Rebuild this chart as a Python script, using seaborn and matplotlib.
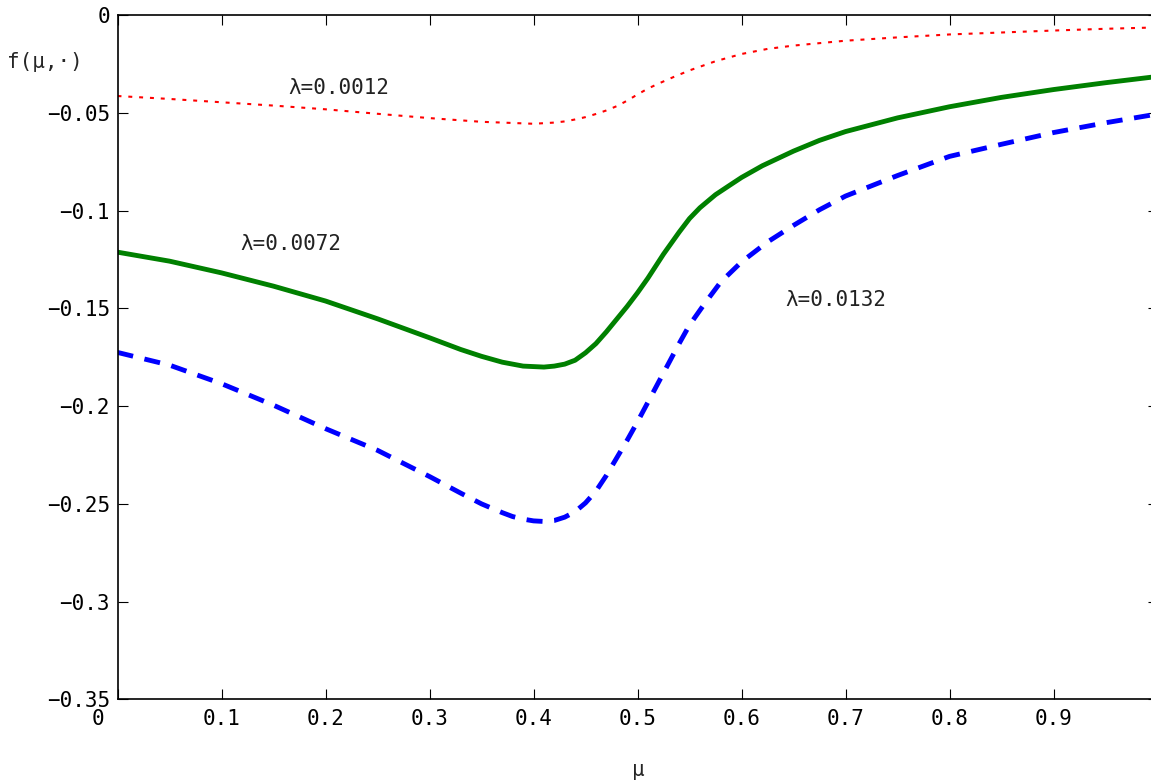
import numpy as np
import pandas as pd
import seaborn as sns
import matplotlib
matplotlib.use("Agg")
import matplotlib.pyplot as plt
import matplotlib.transforms as mtransforms

# values
mu_green = [0.00, 0.05, 0.10, 0.15, 0.20, 0.25, 0.30, 0.33, 0.35, 0.37, 0.39, 0.41, 0.42,
            0.43, 0.44, 0.45, 0.46, 0.47, 0.48, 0.49, 0.50, 0.51, 0.525, 0.54, 0.55, 0.56,
            0.575, 0.59, 0.60, 0.62, 0.65, 0.675, 0.70, 0.75, 0.80, 0.85, 0.90, 0.95, 1.00]
f_green = [-0.1212, -0.1258, -0.1318, -0.1386, -0.1462, -0.1553, -0.1650, -0.1710, -0.1745,
           -0.1775, -0.1795, -0.1800, -0.1795, -0.1785, -0.1765, -0.1727, -0.1680, -0.1620,
           -0.1555, -0.1490, -0.1420, -0.1345, -0.1222, -0.1110, -0.1040, -0.0985, -0.0918,
           -0.0865, -0.0830, -0.0770, -0.0695, -0.0640, -0.0595, -0.0525, -0.0468, -0.0420,
           -0.0380, -0.0345, -0.0313]

mu_blue = [0.00, 0.05, 0.10, 0.15, 0.20, 0.25, 0.30, 0.33, 0.35, 0.37, 0.38, 0.39, 0.40,
           0.41, 0.42, 0.43, 0.44, 0.45, 0.46, 0.47, 0.48, 0.49, 0.50, 0.51, 0.525, 0.54,
           0.55, 0.565, 0.58, 0.60, 0.625, 0.65, 0.675, 0.70, 0.75, 0.80, 0.85, 0.90, 0.95, 1.00]
f_blue = [-0.1725, -0.1790, -0.1885, -0.1995, -0.2115, -0.2226, -0.2360, -0.2445, -0.2500,
          -0.2545, -0.2565, -0.2578, -0.2587, -0.2590, -0.2585, -0.2568, -0.2540, -0.2495,
          -0.2435, -0.2355, -0.2265, -0.2175, -0.2080, -0.1980, -0.1830, -0.1680, -0.1585,
          -0.1472, -0.1365, -0.1262, -0.1160, -0.1075, -0.0995, -0.0925, -0.0820, -0.0722,
          -0.0660, -0.0600, -0.0550, -0.0505]

mu_red = [0.00, 0.05, 0.10, 0.15, 0.20, 0.25, 0.30, 0.35, 0.40, 0.42, 0.43, 0.44, 0.45,
          0.46, 0.47, 0.48, 0.49, 0.50, 0.51, 0.52, 0.535, 0.55, 0.575, 0.60, 0.625, 0.65,
          0.70, 0.75, 0.80, 0.85, 0.90, 0.95, 1.00]
f_red = [-0.0413, -0.0428, -0.0445, -0.0462, -0.0481, -0.0504, -0.0526, -0.0545, -0.0555,
         -0.0549, -0.0543, -0.0533, -0.0521, -0.0505, -0.0487, -0.0465, -0.0437, -0.0405,
         -0.0375, -0.0350, -0.0315, -0.0282, -0.0235, -0.0198, -0.0172, -0.0155, -0.0130,
         -0.0113, -0.0098, -0.0088, -0.0078, -0.0069, -0.0062]

labels = ["λ=0.0012", "λ=0.0072", "λ=0.0132"]
label_pos = [(0.164, -0.0371), (0.118, -0.1169), (0.642, -0.1456)]

sns.set_style("white")
plt.rcParams['font.family'] = ['DejaVu Sans Mono', 'DejaVu Sans']

fig = plt.figure(figsize=(11.51, 7.82), dpi=100)
# axes run a little past the right edge, like the original
ax = fig.add_axes([117.5 / 1151, 1 - 699.3 / 782, 1040 / 1151, 684 / 782])

sns.lineplot(x=mu_red, y=f_red, ax=ax, color="#ff0000", lw=1.5,
             linestyle=(0, (1.9, 3.3)))
sns.lineplot(x=mu_green, y=f_green, ax=ax, color="#008000", lw=3.5)
sns.lineplot(x=mu_blue, y=f_blue, ax=ax, color="#0000ff", lw=3.5,
             linestyle=(0, (3.3, 2.4)))
for line in ax.lines:
    line.set_dash_capstyle("butt")
    line.set_solid_joinstyle("round")

for txt, (x, y) in zip(labels, label_pos):
    ax.text(x, y, txt, ha="left", va="center", fontsize=15, color="#222222")

ax.set_xlim(0, 1)
ax.set_ylim(-0.35, 0)
ax.set_xticks(np.arange(0, 1.01, 0.1))
ax.set_xticklabels(["0"] + [f"{v:.1f}" for v in np.arange(0.1, 0.95, 0.1)] + ["1"])
ax.set_yticks(np.arange(-0.35, 0.001, 0.05))
ax.set_yticklabels(["−0.35", "−0.3", "−0.25", "−0.2", "−0.15", "−0.1", "−0.05", "0"])

ax.tick_params(direction="in", length=7.2, width=0.8, labelsize=15,
               top=True, right=True, bottom=True, left=True, colors="black")
ax.tick_params(axis="y", pad=5.5)
ax.tick_params(axis="x", pad=7)
for s in ax.spines.values():
    s.set_linewidth(1.2)
    s.set_color("black")

# the "0" under the x axis sits left of its tick in the original
lab0 = ax.get_xticklabels()[0]
lab0.set_transform(lab0.get_transform() + mtransforms.ScaledTranslation(-20 / 100, 0, fig.dpi_scale_trans))

ax.set_xlabel("μ", fontsize=15, va="center")
ax.xaxis.set_label_coords(0.5005, -0.1034)
ax.set_ylabel("f(μ,·)", fontsize=15, rotation=0, ha="center", va="center")
ax.yaxis.set_label_coords(-0.0697, 0.9317)

plt.savefig("out.png", dpi=100)
